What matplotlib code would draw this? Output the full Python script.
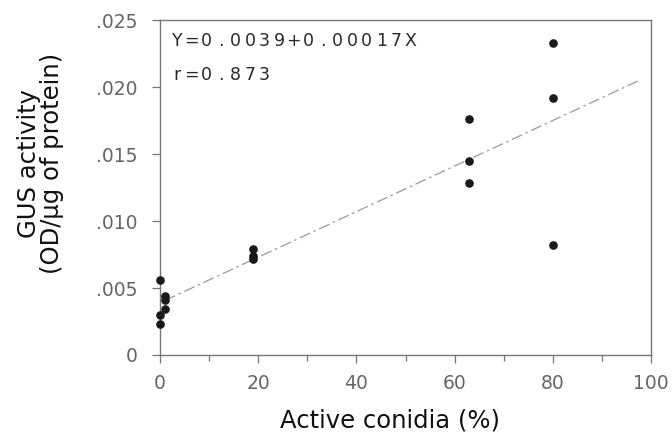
import matplotlib
matplotlib.use("Agg")
import matplotlib.pyplot as plt
import numpy as np

# data
conidia = [0, 0, 0, 1, 1, 1, 19, 19, 19, 63, 63, 63, 80, 80, 80]
gus = [0.0056, 0.0030, 0.0023, 0.0044, 0.0041, 0.0034,
       0.0079, 0.0074, 0.0072, 0.0176, 0.0145, 0.0128,
       0.0233, 0.0192, 0.0082]
intercept = 0.0039
slope = 0.00017
fit_range = [1, 98]
eq_text = "Y=0.0039+0.00017X"
r_text = "r=0.873"
yticks = [0, 0.005, 0.010, 0.015, 0.020, 0.025]
ytick_labels = ["0", ".005", ".010", ".015", ".020", ".025"]
xticks = [0, 20, 40, 60, 80, 100]

fig = plt.figure(figsize=(6.72, 4.32), dpi=100)
ax = fig.add_axes([160 / 672, 1 - 355 / 432, 491 / 672, 335 / 432])

gray = "#666666"
for s in ax.spines.values():
    s.set_color("#777777")
    s.set_linewidth(1.0)

fx = np.array(fit_range)
ax.plot(fx, intercept + slope * fx, color="#9a9a9a", lw=0.9,
        dashes=(9, 3, 2, 3))
ax.plot(conidia, gus, "o", color="#1a1a1a", ms=5.2, mec="#1a1a1a",
        clip_on=False, zorder=5)

ax.set_xlim(0, 100)
ax.set_ylim(0, 0.025)
ax.set_xticks(xticks)
ax.set_xticks(range(10, 100, 20), minor=True)
ax.set_yticks(yticks)
ax.set_yticklabels(ytick_labels)
ax.tick_params(axis="both", which="major", length=6, width=0.9,
               color="#777777", labelcolor=gray, labelsize=13.5)
ax.tick_params(axis="x", which="major", pad=8)
ax.tick_params(axis="y", which="major", pad=10)
ax.tick_params(axis="x", which="minor", length=4, width=0.9, color="#777777")

ax.set_xlabel("Active conidia (%)", fontsize=17.5, color="#111111")
ax.xaxis.set_label_coords(0.468, -0.16)
ax.set_ylabel("GUS activity\n(OD/\u03bcg of protein)", fontsize=17.5,
              color="#111111", linespacing=0.92)
ax.yaxis.set_label_coords(-0.196, 0.573)


# typewriter-like spaced text, one char at a time
def spaced(txt, x0, y0, pitch=14.6):
    for i, ch in enumerate(txt):
        ax.annotate(ch, xy=(0, 1), xycoords="axes fraction",
                    xytext=(x0 + i * pitch, y0), textcoords="offset pixels",
                    ha="center", va="baseline", fontsize=12.5, color="#2a2a2a")


spaced(eq_text, 17, -26)
spaced(r_text, 17, -60)

fig.savefig("out.png", dpi=100)
